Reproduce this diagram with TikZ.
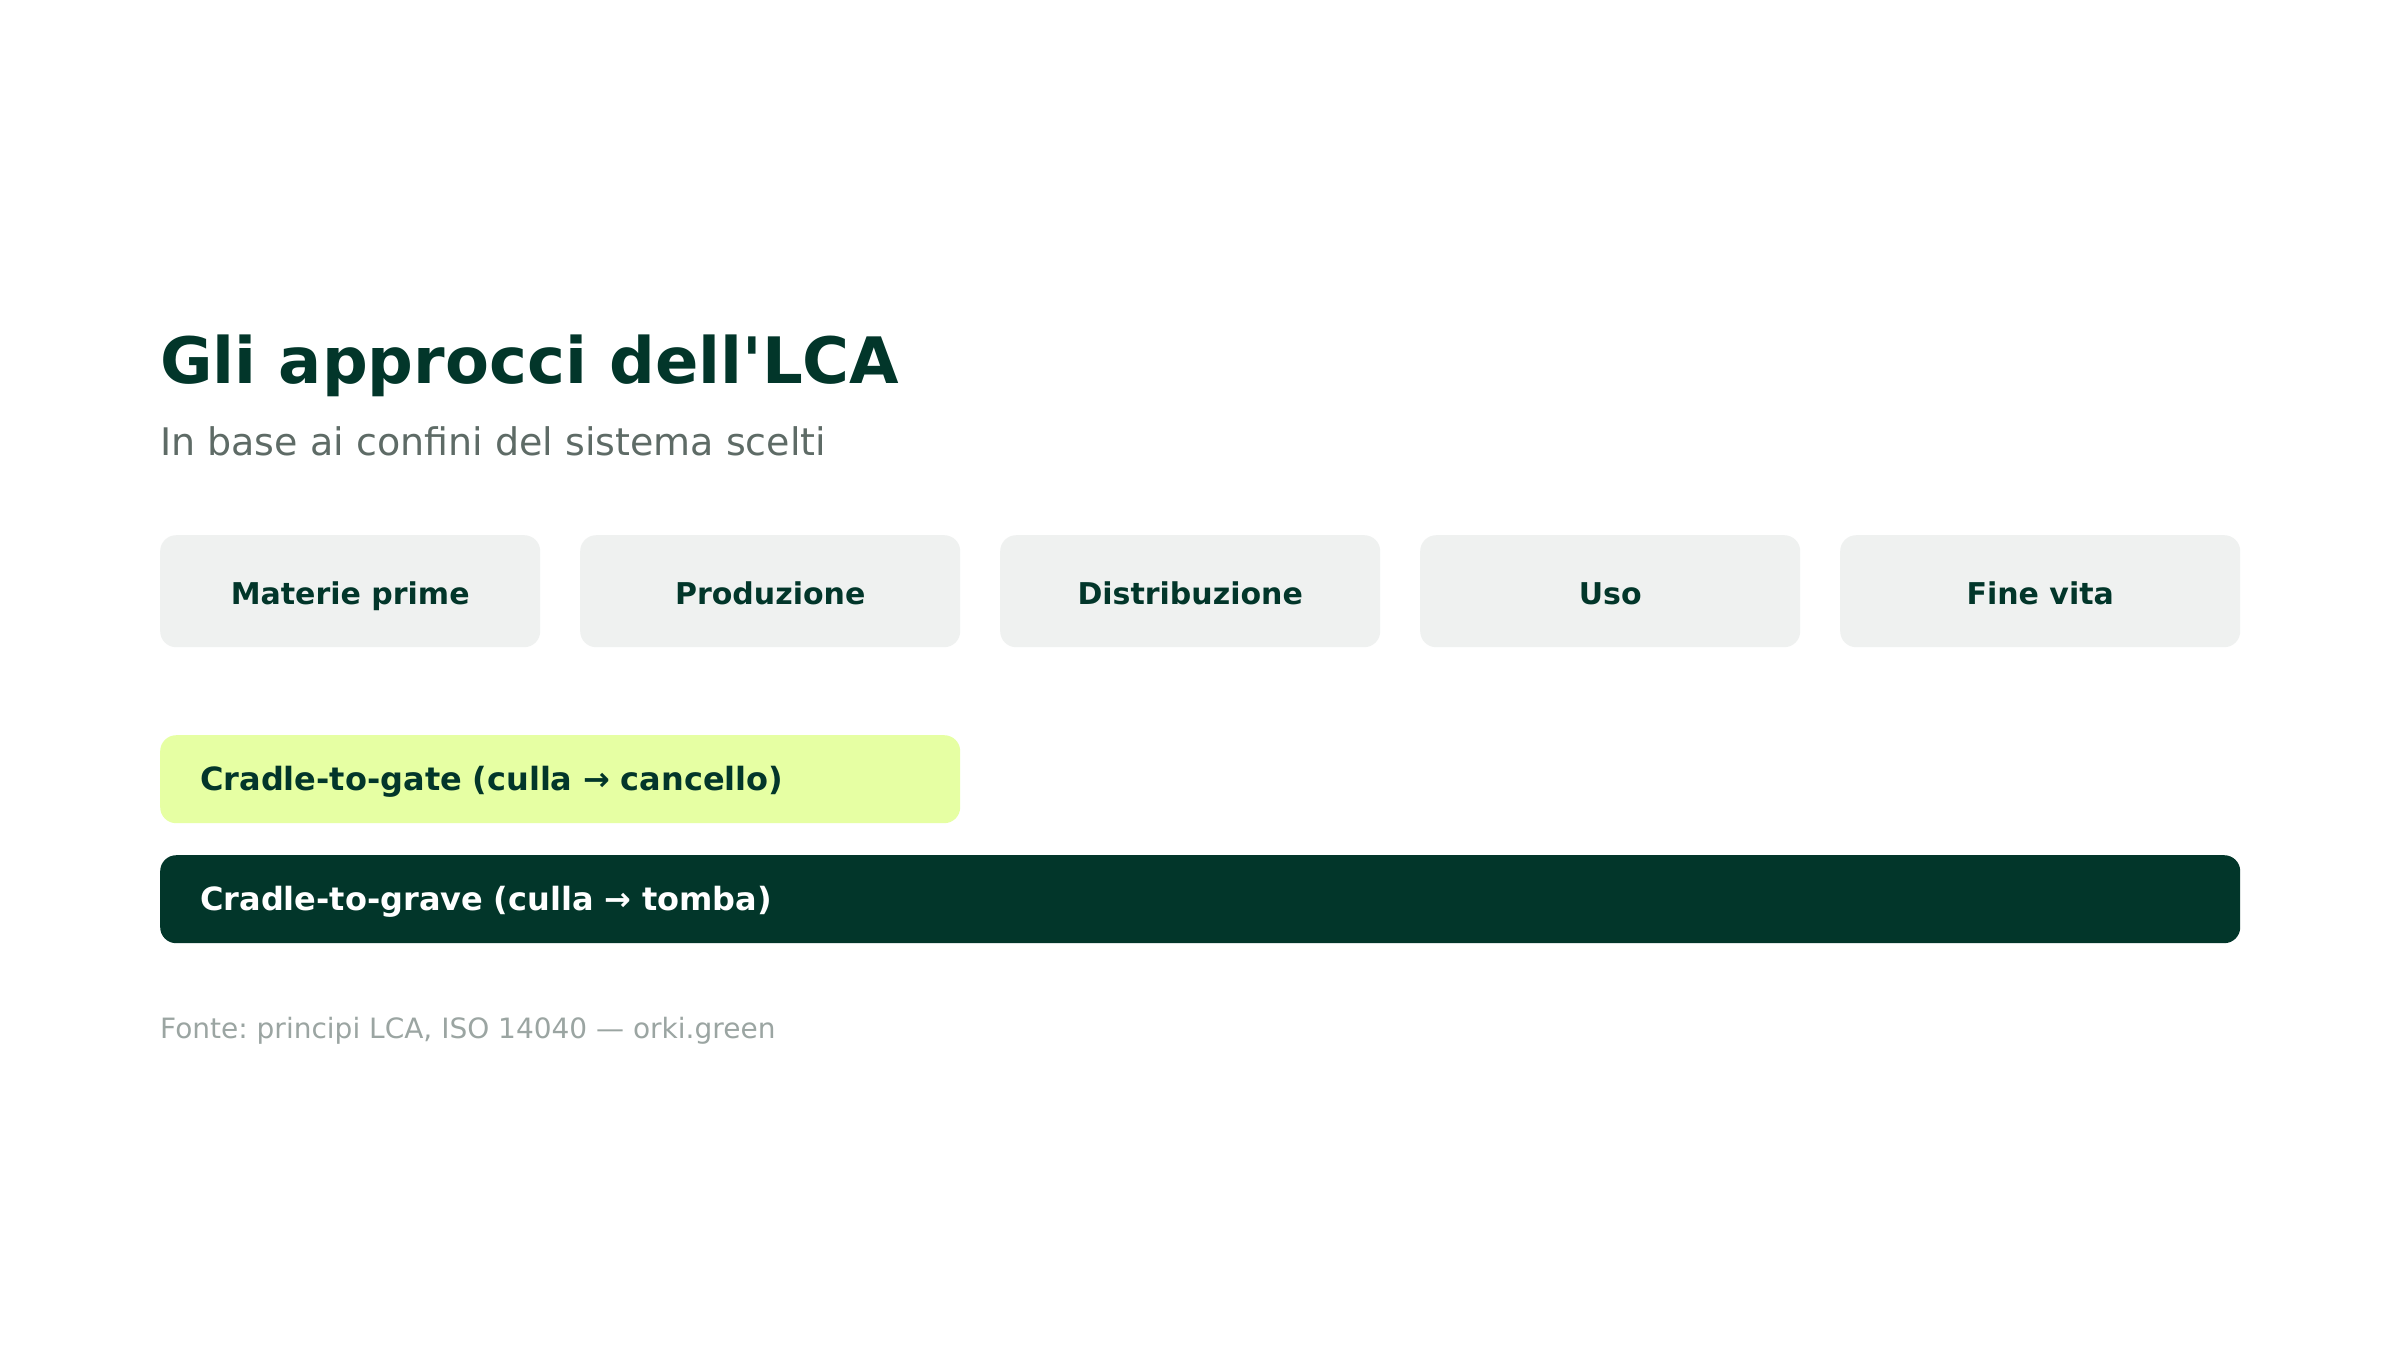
\documentclass[tikz,border=0pt]{standalone}
\usepackage{fontspec}
\setmainfont{DejaVu Sans}[Ligatures=TeXOff]
\frenchspacing
\definecolor{dkgreen}{HTML}{02362A}
\definecolor{lime}{HTML}{E6FFA3}
\definecolor{phasegray}{HTML}{EFF1F0}
\definecolor{subgray}{HTML}{5E6B66}
\definecolor{footgray}{HTML}{9BA5A2}
\tikzset{
  phase/.style={fill=phasegray, rounded corners=16pt, inner sep=0pt,
    minimum height=112pt, anchor=north west, text=dkgreen,
    font=\bfseries\fontsize{30}{36}\selectfont, text height=27pt, text depth=0pt},
  bar/.style={rounded corners=16pt, inner ysep=0pt, inner xsep=40pt,
    minimum height=88pt, anchor=north west, align=left,
    font=\bfseries\fontsize{32}{38}\selectfont, text height=23.3pt, text depth=0pt},
}
\begin{document}
\begin{tikzpicture}[x=1pt,y=-1pt]
\useasboundingbox[fill=white] (0,0) rectangle (2400,1350);
\node[anchor=base west, inner sep=0pt, text=dkgreen, font=\bfseries\fontsize{64}{76}\selectfont] (title) at (160,383) {Gli approcci dell'LCA};
\node[anchor=base west, inner sep=0pt, text=subgray, font=\fontsize{38}{46}\selectfont] (subtitle) at (160,455) {In base ai confini del sistema scelti};
\node[phase, minimum width=380pt] (p1) at (160,535) {Materie prime};
\node[phase, minimum width=380pt] (p2) at (580,535) {Produzione};
\node[phase, minimum width=380pt] (p3) at (1000,535) {Distribuzione};
\node[phase, minimum width=380pt] (p4) at (1420,535) {Uso};
\node[phase, minimum width=400pt] (p5) at (1840,535) {Fine vita};
\node[bar, fill=lime, text=dkgreen, text width=720pt] (gate) at (160,735) {Cradle-to-gate (culla → cancello)};
\node[bar, fill=dkgreen, text=white, text width=2000pt] (grave) at (160,855) {Cradle-to-grave (culla → tomba)};
\node[anchor=base west, inner sep=0pt, text=footgray, font=\fontsize{28}{34}\selectfont] (source) at (160,1038) {Fonte: principi LCA, ISO 14040 — orki.green};
\end{tikzpicture}
\end{document}
